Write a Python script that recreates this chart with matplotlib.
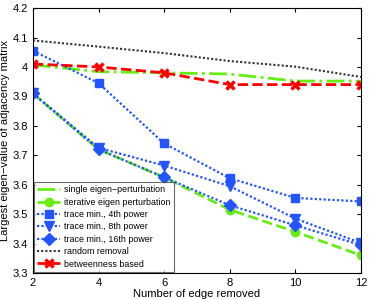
import numpy as np
import matplotlib
matplotlib.use('Agg')
from matplotlib import pyplot as plt

plt.rcParams['font.family'] = ['Liberation Sans', 'DejaVu Sans']
plt.rcParams['xtick.direction'] = 'in'
plt.rcParams['ytick.direction'] = 'in'

edges = [2, 4, 6, 8, 10, 12]
single_eig = [4.007, 3.984, 3.980, 3.976, 3.952, 3.952]
iter_eig = [3.910, 3.720, 3.625, 3.515, 3.440, 3.360]
trace4 = [4.055, 3.945, 3.740, 3.622, 3.555, 3.543]
trace8 = [3.910, 3.725, 3.665, 3.595, 3.485, 3.402]
trace16 = [3.910, 3.720, 3.625, 3.530, 3.462, 3.395]
random_rm = [4.090, 4.069, 4.047, 4.020, 4.001, 3.966]
betweenness = [4.010, 4.000, 3.980, 3.940, 3.940, 3.940]

green = '#66ee11'
blue = '#2255ff'
dot = (0, (1, 1))

fig = plt.figure(figsize=(3.74, 2.99), dpi=100)
ax = fig.add_axes([0.088, 0.087, 0.877, 0.886])

ax.plot(edges, single_eig, '-.', color=green, lw=2, label='single eigen\u2212perturbation')
ax.plot(edges, iter_eig, '--', color=green, lw=2, marker='o', ms=6,
        label='iterative eigen perturbation')
ax.plot(edges, trace4, linestyle=dot, color=blue, lw=1.6, marker='s', ms=6,
        label='trace min., 4th power')
ax.plot(edges, trace8, linestyle=dot, color=blue, lw=1.6, marker='v', ms=7,
        label='trace min., 8th power')
ax.plot(edges, trace16, linestyle=dot, color=blue, lw=1.6, marker='D', ms=6,
        label='trace min., 16th power')
ax.plot(edges, random_rm, linestyle=dot, color='#333333', lw=1.5, label='random removal')
ax.plot(edges, betweenness, '--', color='red', lw=2, marker='x', ms=6, mew=2.5,
        label='betweenness based')

ax.set_xlim(2, 12)
ax.set_ylim(3.3, 4.2)
ax.set_xticks(edges)
ax.set_yticks(np.arange(3.3, 4.21, 0.1))
ax.set_yticklabels(['3.3', '3.4', '3.5', '3.6', '3.7', '3.8', '3.9', '4', '4.1', '4.2'])
ax.tick_params(labelsize=8, top=True, right=True, length=3)
ax.set_xlabel('Number of edge removed', fontsize=8, labelpad=1)
ax.set_ylabel('Largest eigen\u2212value of adjacency matrix', fontsize=8, labelpad=2)

leg = ax.legend(loc='lower left', fontsize=6.4, frameon=True, fancybox=False,
                borderaxespad=0.1, handlelength=2.6, labelspacing=0.38,
                borderpad=0.4, handletextpad=0.4)
leg.get_frame().set_edgecolor('#444444')
leg.get_frame().set_linewidth(0.8)

fig.savefig('out.png', dpi=100)
